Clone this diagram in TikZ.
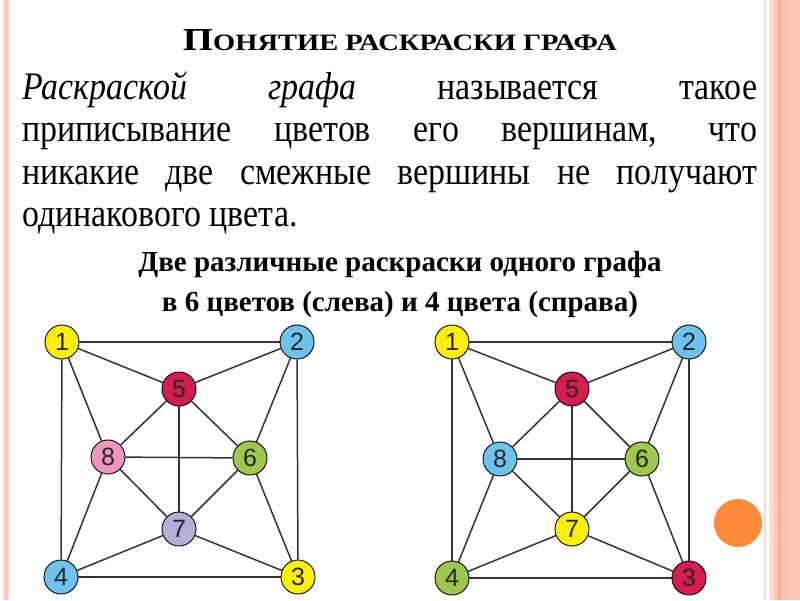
\documentclass[tikz,border=0pt]{standalone}
\usepackage{fontspec}
\usepackage{graphicx}
\setmainfont{Liberation Serif}
\newfontfamily\bodyfont[FakeStretch=0.87]{Liberation Serif}
\newfontfamily\numfont{Liberation Sans}
\definecolor{salmon}{HTML}{FFC9B5}
\definecolor{salmondk}{HTML}{F7AF90}
\definecolor{salmonlt}{HTML}{FDDACD}
\definecolor{orng}{HTML}{FF8A3B}
\definecolor{cyel}{HTML}{FFF100}
\definecolor{cblu}{HTML}{6DC3EC}
\definecolor{cred}{HTML}{D61D4F}
\definecolor{cpnk}{HTML}{F095C0}
\definecolor{cgrn}{HTML}{9DC84B}
\definecolor{clav}{HTML}{B4AFD8}
\definecolor{edgec}{HTML}{333333}
\definecolor{numc}{HTML}{262626}
\begin{document}
\begin{tikzpicture}[x=1pt,y=-1pt,
  vert/.style={circle, draw=black, line width=0.9pt, minimum size=34pt, inner sep=0pt,
    font=\numfont\fontsize{25}{25}\selectfont, text=numc},
  gedge/.style={draw=edgec, line width=1.5pt},
  bodyline/.style={anchor=base west, inner sep=0pt, font=\bodyfont\fontsize{39}{44}\selectfont},
  subline/.style={anchor=base, inner sep=0pt, font=\bfseries\fontsize{29}{32}\selectfont}]
\useasboundingbox (0,0) rectangle (800,600);
\fill[white] (0,0) rectangle (800,600);
% side stripes
\fill[salmonlt] (3,0) rectangle (9,600);
\fill[salmon] (5,0) rectangle (8,600);
\fill[salmonlt] (764,0) rectangle (766,600);
\fill[salmonlt] (769,0) rectangle (773,600);
\fill[salmon] (773,0) rectangle (800,600);
\fill[salmondk] (778,0) rectangle (781,600);
\fill[salmondk!60!salmon] (785,0) rectangle (787,600);
% orange dot
\fill[orng] (738,523) circle (24);
% title
\node[anchor=base, inner sep=0pt] (title) at (400,50)
  {\resizebox{434pt}{\height}{\bfseries{\fontsize{32}{34}\selectfont П}\fontsize{23.5}{26}\selectfont ОНЯТИЕ РАСКРАСКИ ГРАФА}};
% body
\node[bodyline] (l1) at (22,99) {\makebox[735pt][s]{{\itshape Раскраской} {\itshape графа} называется такое}};
\node[bodyline] (l2) at (22,141) {\makebox[735pt][s]{приписывание цветов его вершинам, что}};
\node[bodyline] (l3) at (22,184) {\makebox[735pt][s]{никакие две смежные вершины не получают}};
\node[bodyline] (l4) at (22,226) {одинакового цвета.};
% subtitle
\node[subline] (s1) at (400,271) {Две различные раскраски одного графа};
\node[subline] (s2) at (400,311) {в 6 цветов (слева) и 4 цвета (справа)};
% left graph
\node[vert, fill=cyel] (a1) at (62,342) {1};
\node[vert, fill=cblu] (a2) at (297,342) {2};
\node[vert, fill=cyel] (a3) at (298,577) {3};
\node[vert, fill=cblu] (a4) at (61,577) {4};
\node[vert, fill=cred] (a5) at (179,389) {5};
\node[vert, fill=cgrn] (a6) at (250,458) {6};
\node[vert, fill=clav] (a7) at (179,529) {7};
\node[vert, fill=cpnk] (a8) at (108,457) {8};
% right graph
\node[vert, fill=cyel] (b1) at (452,342) {1};
\node[vert, fill=cblu] (b2) at (689,342) {2};
\node[vert, fill=cred] (b3) at (689,578) {3};
\node[vert, fill=cgrn] (b4) at (452,578) {4};
\node[vert, fill=cred] (b5) at (572,389) {5};
\node[vert, fill=cgrn] (b6) at (642,459) {6};
\node[vert, fill=cyel] (b7) at (572,529) {7};
\node[vert, fill=cblu] (b8) at (500,459) {8};
\foreach \g in {a,b}{
  \foreach \u/\v in {1/2,1/4,2/3,4/3,1/5,1/8,2/5,2/6,5/8,5/6,5/7,8/6,8/7,8/4,6/7,6/3,7/4,7/3}{
    \draw[gedge] (\g\u) -- (\g\v);
  }
}
\end{tikzpicture}
\end{document}
